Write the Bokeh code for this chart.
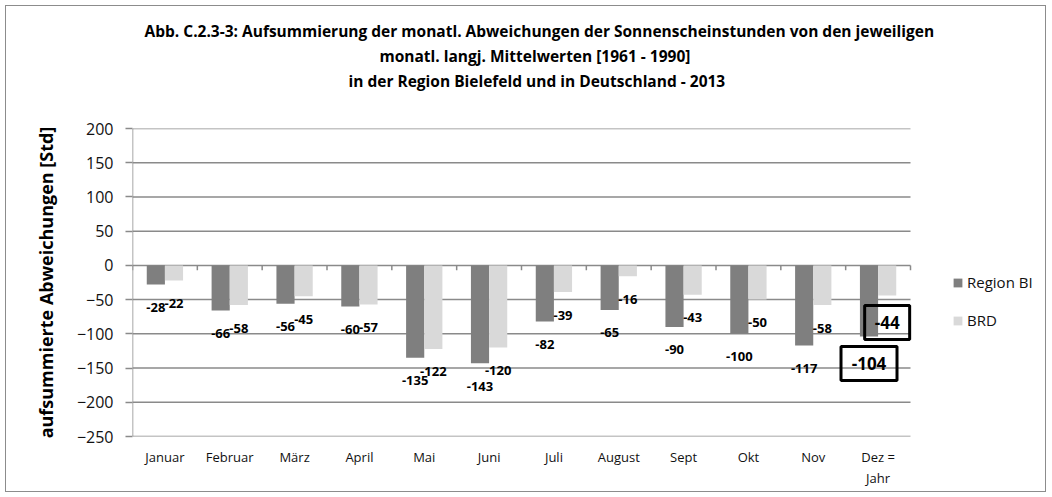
from bokeh.plotting import figure
from bokeh.models import (Range1d, FixedTicker, ColumnDataSource,
                          LabelSet, Legend, LegendItem, Title)
from bokeh.transform import dodge
from bokeh.core.properties import value
from bokeh.embed import file_html
from bokeh.resources import INLINE

months = ["Januar", "Februar", "März", "April", "Mai", "Juni", "Juli",
          "August", "Sept", "Okt", "Nov", "Dez =\nJahr"]
region_bi = [-28, -66, -56, -60, -135, -143, -82, -65, -90, -100, -117, -104]
brd = [-22, -58, -45, -57, -122, -120, -39, -16, -43, -50, -58, -44]
y_ticks = [-250, -200, -150, -100, -50, 0, 50, 100, 150, 200]
series_names = ["Region BI", "BRD"]
title_lines = [
    "Abb. C.2.3-3:  Aufsummierung der monatl. Abweichungen der Sonnenscheinstunden von den jeweiligen",
    "monatl. langj. Mittelwerten [1961 - 1990]",
    "in der Region Bielefeld und in Deutschland - 2013",
]
y_label = "aufsummierte Abweichungen [Std]"

FONT = "Open Sans"
C_REG = "#7f7f7f"
C_BRD = "#d9d9d9"
GRID = "#8a8a8a"

# layout plan (pixels)
W, H = 1041, 487
ML, MR, MT, MB = 126, 6, 122, 57
PLOT_W = 778                       # width used by the 12 categories
n = len(months)
y_lo, y_hi = y_ticks[0], y_ticks[-1]
frame_w = W - ML - MR
frame_h = H - MT - MB
PX = (y_hi - y_lo) / frame_h       # data units per pixel
x_end = n * frame_w / PLOT_W
# left offsets (px from frame left) that centre each title line near x=536
title_offsets = [12, 247, 216]

xc = [i + 0.5 for i in range(n)]

def mk(rows):
    return ColumnDataSource(dict(xc=[xc[i] for i in rows],
                                 region=[region_bi[i] for i in rows],
                                 brd=[brd[i] for i in rows],
                                 region_txt=[str(region_bi[i]) for i in rows],
                                 brd_txt=[str(brd[i]) for i in rows],
                                 region_box=[region_bi[i] - 27 * PX for i in rows],
                                 brd_box=[brd[i] - 27 * PX for i in rows]))

src = mk(range(n))
src_main = mk(range(n - 1))
src_last = mk([n - 1])

p = figure(width=W, height=H,
           x_range=Range1d(0, x_end), y_range=Range1d(y_lo, y_hi),
           output_backend="svg", toolbar_location=None,
           min_border_left=ML, min_border_right=MR,
           min_border_top=MT, min_border_bottom=MB)
p.styles = {"border": "1px solid #8c8c8c", "margin-left": "5px", "margin-top": "5px"}
p.outline_line_color = None
p.background_fill_color = "white"
p.border_fill_color = "white"
p.xgrid.grid_line_color = None
p.ygrid.grid_line_color = None

# title: spacer nearest the plot, then the three lines stacked upwards
p.title = None
p.add_layout(Title(text=" ", standoff=11, text_font=FONT, text_font_size="15.5px"), "above")
for line, off in reversed(list(zip(title_lines, title_offsets))):
    p.add_layout(Title(text=line, align="left", offset=off, vertical_align="middle",
                       standoff=1, text_line_height=0.88, text_font=FONT,
                       text_font_size="15.5px", text_font_style="bold",
                       text_color="black"), "above")

# gridlines across the category area only
p.segment(x0=[0] * len(y_ticks), y0=y_ticks, x1=[n] * len(y_ticks), y1=y_ticks,
          line_color=GRID, line_width=1.5)
# vertical axis line
p.segment(x0=[0], y0=[y_lo], x1=[0], y1=[y_hi], line_color=GRID, line_width=1.5)

r1 = p.vbar(x=dodge("xc", -0.14), top="region", width=0.28,
            source=src, fill_color=C_REG, line_color=None)
r2 = p.vbar(x=dodge("xc", 0.14), top="brd", width=0.28,
            source=src, fill_color=C_BRD, line_color=None)

# category boundary ticks on the zero line
bounds = list(range(n + 1))
p.segment(x0=bounds, y0=[0] * len(bounds), x1=bounds, y1=[-7] * len(bounds),
          line_color=GRID, line_width=1.5)

# y axis
p.yaxis.ticker = FixedTicker(ticks=y_ticks)
p.yaxis.axis_line_color = None
p.yaxis.major_tick_line_color = GRID
p.yaxis.major_tick_line_width = 1.5
p.yaxis.major_tick_out = 7
p.yaxis.major_tick_in = 0
p.yaxis.minor_tick_line_color = None
p.yaxis.major_label_text_font = FONT
p.yaxis.major_label_text_font_size = "16px"
p.yaxis.major_label_text_color = "#111111"
p.yaxis.major_label_standoff = 12
p.yaxis.axis_label = y_label
p.yaxis.axis_label_text_font = FONT
p.yaxis.axis_label_text_font_size = "18px"
p.yaxis.axis_label_text_font_style = "bold"
p.yaxis.axis_label_text_color = "black"
p.yaxis.axis_label_standoff = 16

# x axis (category labels)
p.xaxis.ticker = FixedTicker(ticks=xc)
p.xaxis.major_label_overrides = {x: m for x, m in zip(xc, months)}
p.xaxis.axis_line_color = None
p.xaxis.major_tick_line_color = None
p.xaxis.minor_tick_line_color = None
p.xaxis.major_label_text_font = FONT
p.xaxis.major_label_text_font_size = "13px"
p.xaxis.major_label_text_color = "#111111"
p.xaxis.major_label_standoff = 5

# data labels
for field, off in (("region", -0.14), ("brd", 0.14)):
    p.add_layout(LabelSet(x=dodge("xc", off), y=field, text=field + "_txt",
                          source=src_main, text_align="center", text_baseline="middle",
                          y_offset=-23, text_font=value(FONT), text_font_size="13px",
                          text_font_style="bold", text_color="black"))
# boxed year totals
for field, off, w in (("region", -0.14, 56), ("brd", 0.14, 45)):
    p.add_layout(LabelSet(x=dodge("xc", off), y=field, text=field + "_txt",
                          source=src_last, text_align="center", text_baseline="middle",
                          y_offset=-27, text_font=value(FONT), text_font_size="17px",
                          text_font_style="bold", text_color="black"))
    p.rect(x=dodge("xc", off), y=field + "_box", width=w, height=34,
           width_units="screen", height_units="screen", source=src_last,
           fill_color=None, line_color="black", line_width=3)

legend = Legend(items=[LegendItem(label=series_names[0], renderers=[r1]),
                       LegendItem(label=series_names[1], renderers=[r2])],
                location=(820, 106), orientation="vertical",
                glyph_width=11, glyph_height=11, label_standoff=4, spacing=18,
                label_text_font=FONT, label_text_font_size="15px", label_text_color="#111111",
                padding=0, margin=0, border_line_color=None, background_fill_alpha=0)
p.add_layout(legend, "center")

open("out.html", "w").write(file_html(p, INLINE))
